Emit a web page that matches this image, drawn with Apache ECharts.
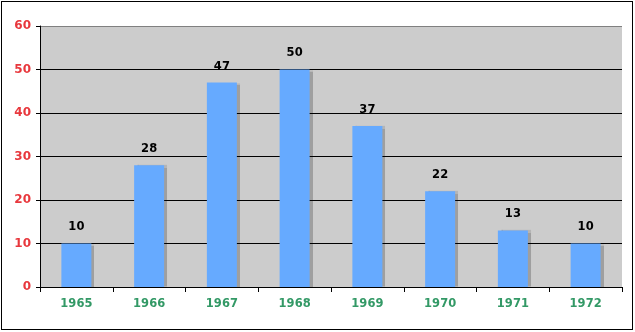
<!DOCTYPE html>
<html>
<head>
<meta charset="utf-8">
<script src="https://cdn.jsdelivr.net/npm/echarts@6/dist/echarts.min.js"></script>
<style>
html,body{margin:0;padding:0;background:#fff;}
#frame{position:absolute;left:1px;top:1px;width:630px;height:327px;border:1px solid #000;box-sizing:content-box;}
#c{position:absolute;left:0;top:0;width:635px;height:332px;}
</style>
</head>
<body>
<div id="frame"></div>
<div id="c"></div>
<script>
const years = ['1965','1966','1967','1968','1969','1970','1971','1972'];
const values = [10, 28, 47, 50, 37, 22, 13, 10];
const yTicks = [0, 10, 20, 30, 40, 50, 60];

const FONT = 'DejaVu Sans, Verdana, sans-serif';
const chart = echarts.init(document.getElementById('c'), null, {renderer:'canvas'});
chart.setOption({
  animation: false,
  grid: {left: 40, right: 13, top: 26, bottom: 45, show: true, backgroundColor: '#cccccc', borderWidth: 0},
  xAxis: {
    type: 'category',
    data: years,
    axisLine: {show: true, lineStyle: {color: '#000', width: 1}},
    axisTick: {show: true, length: 5, lineStyle: {color: '#000'}},
    axisLabel: {color: '#339966', fontFamily: FONT, fontWeight: 'bold', fontSize: 11.5, margin: 11}
  },
  yAxis: {
    type: 'value',
    min: yTicks[0], max: yTicks[yTicks.length-1], interval: 10,
    axisLine: {show: true, lineStyle: {color: '#000', width: 1}},
    axisTick: {show: true, length: 4, lineStyle: {color: '#000'}},
    axisLabel: {color: '#e8383d', fontFamily: FONT, fontWeight: 'bold', fontSize: 12, margin: 9},
    splitLine: {show: true, lineStyle: {color: ['#000','#000','#000','#000','#000','#000','#808080'], width: 1}}
  },
  series: [{
    type: 'bar',
    data: values,
    barWidth: 30,
    itemStyle: {color: '#66aaff', shadowColor: 'rgba(0,0,0,0.22)', shadowOffsetX: 3, shadowOffsetY: 0, shadowBlur: 1},
    label: {show: true, position: 'top', distance: 10, color: '#000', fontFamily: FONT, fontWeight: 'bold', fontSize: 11.5}
  }]
});
</script>
</body>
</html>
